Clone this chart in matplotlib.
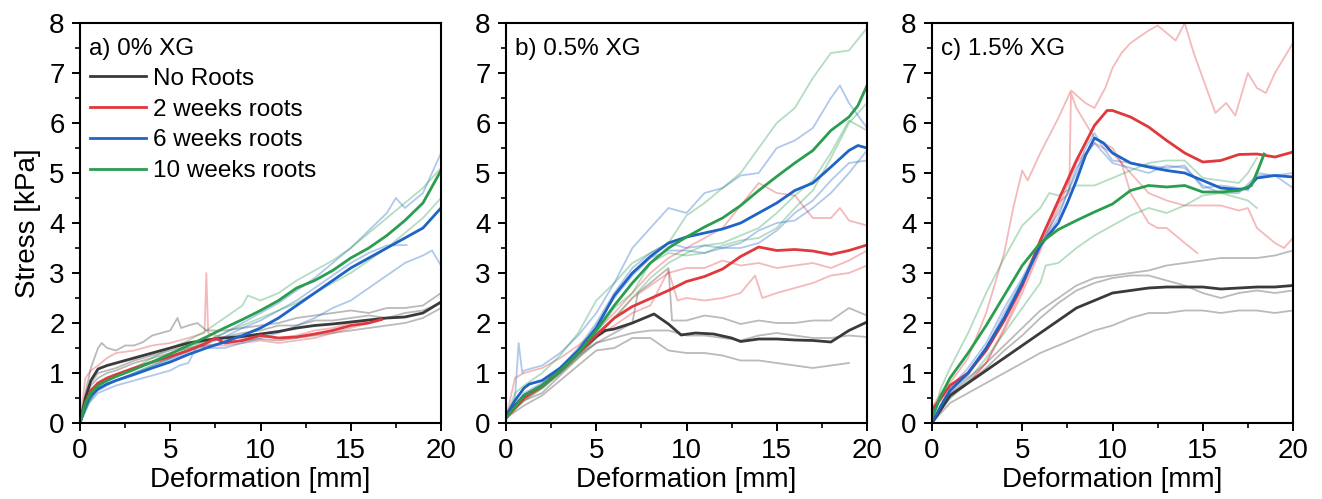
import matplotlib
matplotlib.use('Agg')
import matplotlib.pyplot as plt
from matplotlib.ticker import MultipleLocator

plt.rcParams['font.family'] = ['Liberation Sans', 'DejaVu Sans']

GROUPS = ['No Roots', '2 weeks roots', '6 weeks roots', '10 weeks roots']
COLORS = ['#3a3a3a', '#e0383c', '#1f63c6', '#2a9d4f']
PANEL_TITLES = ['a) 0% XG', 'b) 0.5% XG', 'c) 1.5% XG']

# ---- panel a: 0% XG  (deformation mm, stress kPa) ----
a_none_mean = [(0, 0), (0.3, 0.5), (0.6, 0.85), (1, 1.08), (1.5, 1.15), (2, 1.2), (3, 1.3), (4, 1.4),
               (5, 1.5), (6, 1.6), (7, 1.66), (8, 1.7), (9, 1.73), (10, 1.78), (11, 1.83), (12, 1.9),
               (13, 1.95), (14, 1.98), (15, 2.02), (16, 2.06), (17, 2.1), (18, 2.12), (19, 2.2), (20, 2.42)]
a_none_reps = [
    [(0, 0), (0.3, 0.6), (0.6, 1.1), (1, 1.5), (1.2, 1.6), (1.5, 1.5), (2, 1.45), (2.5, 1.55), (3, 1.55),
     (3.5, 1.62), (4, 1.75), (4.5, 1.8), (5, 1.85), (5.4, 2.1), (5.6, 1.9), (6, 1.95), (6.5, 2.0), (7, 1.85),
     (8, 1.85), (9, 1.9), (10, 1.95), (11, 2.0), (12, 2.1), (13, 2.15), (14, 2.2), (15, 2.25), (16, 2.2),
     (17, 2.3), (18, 2.3), (19, 2.35), (20, 2.6)],
    [(0, 0), (0.3, 0.5), (0.6, 0.8), (1, 1.0), (1.5, 1.05), (2, 1.1), (3, 1.25), (4, 1.35), (5, 1.45),
     (6, 1.55), (7, 1.65), (8, 1.72), (9, 1.8), (10, 1.85), (11, 1.95), (12, 1.95), (13, 2.05), (14, 2.05),
     (15, 2.1), (16, 2.15), (17, 2.1), (18, 2.2), (19, 2.25), (20, 2.4)],
    [(0, 0), (0.3, 0.45), (0.6, 0.75), (1, 0.9), (1.5, 1.0), (2, 1.05), (3, 1.2), (4, 1.3), (5, 1.4),
     (6, 1.5), (7, 1.55), (8, 1.6), (9, 1.65), (10, 1.68), (11, 1.65), (12, 1.7), (13, 1.75), (14, 1.8),
     (15, 1.85), (16, 1.9), (17, 1.95), (18, 2.0), (19, 2.1), (20, 2.3)],
]
a_2w_mean = [(0, 0), (0.3, 0.4), (0.6, 0.65), (1, 0.8), (1.5, 0.9), (2, 0.97), (3, 1.1), (4, 1.22),
             (5, 1.33), (6, 1.45), (7, 1.6), (7.5, 1.7), (8, 1.6), (9, 1.65), (10, 1.75), (11, 1.7),
             (12, 1.72), (13, 1.78), (14, 1.85), (15, 1.95), (16, 2.0), (16.7, 2.07)]
a_2w_reps = [
    [(0, 0), (0.3, 0.9), (0.6, 1.05), (1, 1.15), (1.5, 1.3), (2, 1.4), (3, 1.45), (4, 1.55), (5, 1.6),
     (6, 1.7), (6.9, 1.8), (7.0, 3.0), (7.1, 1.8), (8, 1.7), (9, 1.7), (10, 1.75), (11, 1.7), (12, 1.75),
     (13, 1.85), (14, 1.9), (15, 2.0), (16, 2.05)],
    [(0, 0), (0.5, 0.5), (1, 0.75), (2, 0.95), (3, 1.1), (4, 1.2), (5, 1.3), (6, 1.45), (7, 1.55),
     (8, 1.55), (9, 1.6), (10, 1.65), (11, 1.6), (12, 1.65), (13, 1.7), (14, 1.8), (15, 1.9), (16, 2.0)],
]
a_6w_mean = [(0, 0), (0.3, 0.35), (0.6, 0.55), (1, 0.68), (1.5, 0.78), (2, 0.85), (3, 0.97), (4, 1.1),
             (5, 1.22), (6, 1.37), (7, 1.5), (8, 1.62), (9, 1.75), (10, 1.9), (11, 2.1), (12, 2.35),
             (13, 2.6), (14, 2.85), (15, 3.1), (16, 3.3), (17, 3.5), (18, 3.7), (19, 3.9), (20, 4.3)]
a_6w_reps = [
    [(0, 0), (0.5, 0.4), (1, 0.6), (2, 0.75), (3, 0.85), (4, 0.95), (5, 1.05), (5.5, 1.15), (6, 1.2),
     (6.5, 1.55), (7, 1.5), (8, 1.5), (9, 1.6), (10, 1.7), (11, 1.8), (12, 1.95), (13, 2.1), (14, 2.3),
     (15, 2.45), (16, 2.7), (17, 2.95), (18, 3.2), (19, 3.35), (19.5, 3.45), (20, 3.15)],
    [(0, 0), (0.5, 0.45), (1, 0.65), (2, 0.85), (3, 1.0), (4, 1.15), (5, 1.3), (6, 1.45), (7, 1.6),
     (8, 1.8), (9, 2.0), (10, 2.2), (11, 2.4), (12, 2.65), (13, 2.9), (14, 3.2), (15, 3.5), (16, 3.85),
     (17, 4.2), (17.5, 4.5), (18, 4.3), (19, 4.6), (20, 5.4)],
    [(0, 0), (0.5, 0.45), (1, 0.7), (2, 0.85), (3, 0.98), (4, 1.12), (5, 1.27), (6, 1.42), (7, 1.58),
     (8, 1.72), (9, 1.9), (10, 2.05), (11, 2.25), (12, 2.45), (13, 2.7), (14, 2.95), (15, 3.2), (16, 3.4),
     (17, 3.55), (18.1, 3.56)],
]
a_10w_mean = [(0, 0), (0.3, 0.4), (0.6, 0.6), (1, 0.75), (1.5, 0.85), (2, 0.93), (3, 1.07), (4, 1.22),
              (5, 1.38), (6, 1.55), (7, 1.72), (8, 1.9), (9, 2.07), (10, 2.25), (11, 2.45), (12, 2.7),
              (13, 2.85), (14, 3.05), (15, 3.3), (16, 3.5), (17, 3.75), (18, 4.05), (19, 4.4), (20, 5.05)]
a_10w_reps = [
    [(0, 0), (0.5, 0.45), (1, 0.75), (2, 0.95), (3, 1.1), (4, 1.3), (5, 1.5), (6, 1.65), (7, 1.85),
     (8, 2.1), (9, 2.35), (9.3, 2.55), (10, 2.45), (11, 2.6), (12, 2.85), (13, 3.05), (14, 3.25),
     (15, 3.5), (16, 3.8), (17, 4.1), (18, 4.4), (19, 4.7), (20, 5.1)],
    [(0, 0), (0.5, 0.4), (1, 0.7), (2, 0.85), (3, 1.0), (4, 1.15), (5, 1.3), (6, 1.5), (7, 1.65),
     (8, 1.8), (9, 1.95), (10, 2.1), (11, 2.25), (12, 2.4), (13, 2.6), (14, 2.8), (15, 3.0), (16, 3.25),
     (17, 3.5), (18, 3.8), (19, 4.1), (20, 4.5)],
]

# ---- panel b: 0.5% XG ----
b_none_mean = [(0, 0.1), (0.5, 0.35), (1, 0.55), (2, 0.75), (3, 1.05), (4, 1.4), (5, 1.73), (5.5, 1.85),
               (6, 1.88), (7, 2.0), (8.2, 2.18), (9, 1.98), (9.7, 1.76), (10.5, 1.8), (11.5, 1.78),
               (12.5, 1.7), (13, 1.63), (14, 1.68), (15, 1.68), (16, 1.66), (17, 1.65), (18, 1.62),
               (19, 1.85), (20, 2.02)]
b_none_reps = [
    [(0, 0.1), (0.5, 0.3), (1, 0.45), (2, 0.6), (3, 0.95), (4, 1.3), (5, 1.6), (6, 1.8), (7, 2.0),
     (7.3, 2.6), (8, 2.8), (9, 3.1), (9.2, 2.05), (10, 2.05), (11, 2.15), (12, 2.1), (13, 1.98),
     (14, 2.05), (15, 2.0), (16, 2.0), (17, 2.05), (18, 2.05), (19, 2.3), (20, 2.15)],
    [(0, 0.1), (1, 0.5), (2, 0.7), (3, 1.0), (4, 1.35), (5, 1.6), (6, 1.7), (7, 1.8), (8, 1.85), (9, 1.85),
     (10, 1.75), (11, 1.75), (12, 1.7), (13, 1.65), (14, 1.75), (15, 1.8), (16, 1.75), (17, 1.7),
     (18, 1.7), (19, 1.75), (20, 1.72)],
    [(0, 0.1), (1, 0.35), (2, 0.55), (3, 0.85), (4, 1.15), (5, 1.45), (6, 1.5), (7, 1.7), (8, 1.7),
     (9, 1.45), (10, 1.4), (11, 1.4), (12, 1.35), (13, 1.25), (14, 1.25), (15, 1.2), (16, 1.15), (17, 1.1),
     (18, 1.15), (19, 1.2)],
]
b_2w_mean = [(0, 0.1), (0.5, 0.3), (1, 0.5), (2, 0.75), (3, 1.05), (4, 1.4), (5, 1.76), (6, 2.1), (7, 2.33),
             (8, 2.49), (9, 2.65), (10, 2.83), (11, 2.93), (12, 3.08), (13, 3.33), (14, 3.52), (15, 3.45),
             (16, 3.47), (17, 3.44), (18, 3.37), (19, 3.45), (20, 3.56)]
b_2w_reps = [
    [(0, 0.1), (0.5, 0.9), (1, 1.0), (2, 1.1), (3, 1.3), (4, 1.55), (5, 1.85), (6, 2.2), (7, 2.6), (8, 3.0),
     (9, 3.3), (10, 3.5), (11, 3.7), (12, 3.9), (13, 4.35), (14, 4.8), (15, 4.6), (16, 4.55), (17, 4.1),
     (18, 4.1), (18.5, 4.3), (19, 4.05), (20, 3.95)],
    [(0, 0.1), (1, 0.5), (2, 0.75), (3, 1.05), (4, 1.4), (5, 1.75), (6, 2.1), (7, 2.5), (8, 2.75), (9, 3.0),
     (10, 3.1), (11, 3.1), (12, 3.25), (13, 3.15), (14, 3.2), (15, 3.1), (16, 3.15), (17, 3.2), (18, 3.1),
     (19, 3.25), (20, 3.45)],
    [(0, 0.1), (1, 0.45), (2, 0.7), (3, 1.0), (4, 1.35), (5, 1.7), (6, 1.95), (7, 2.2), (8, 2.35),
     (9, 3.05), (9.5, 2.45), (10, 2.5), (11, 2.45), (12, 2.5), (13, 2.6), (13.8, 2.95), (14.2, 2.5),
     (15, 2.6), (16, 2.7), (17, 2.8), (18, 2.95), (19, 3.0), (20, 3.15)],
]
b_6w_mean = [(0, 0.15), (0.5, 0.45), (1, 0.7), (1.3, 0.78), (2, 0.85), (3, 1.1), (4, 1.45), (5, 1.9),
             (6, 2.55), (7, 3.0), (8, 3.33), (9, 3.6), (10, 3.72), (11, 3.8), (12, 3.88), (13, 4.0),
             (14, 4.2), (15, 4.4), (16, 4.65), (17, 4.8), (18, 5.12), (19, 5.45), (19.5, 5.55), (20, 5.5)]
b_6w_reps = [
    [(0, 0.1), (0.5, 0.5), (0.7, 1.6), (0.9, 1.0), (1, 1.05), (2, 1.15), (3, 1.4), (4, 1.75), (5, 2.2),
     (6, 2.8), (7, 3.5), (8, 3.9), (9, 4.3), (10, 4.2), (11, 4.6), (12, 4.7), (13, 4.95), (14, 5.0),
     (15, 5.5), (16, 5.65), (17, 5.9), (18, 6.5), (18.5, 6.75), (19, 6.4), (20, 5.9)],
    [(0, 0.1), (1, 0.6), (2, 0.8), (3, 1.1), (4, 1.5), (5, 2.0), (6, 2.6), (7, 3.1), (8, 3.4), (9, 3.6),
     (10, 3.5), (11, 3.55), (12, 3.5), (13, 3.6), (14, 3.85), (15, 4.0), (16, 4.05), (17, 4.3), (18, 4.6),
     (19, 5.0), (20, 5.45)],
    [(0, 0.1), (1, 0.55), (2, 0.75), (3, 1.05), (4, 1.45), (5, 1.95), (6, 2.5), (7, 2.95), (8, 3.3),
     (9, 3.45), (10, 3.45), (11, 3.4), (12, 3.5), (13, 3.5), (14, 3.6), (15, 3.85), (16, 4.2), (17, 4.45),
     (18, 4.85), (19, 5.2), (20, 5.25)],
]
b_10w_mean = [(0, 0.1), (1, 0.55), (2, 0.75), (3, 1.05), (4, 1.4), (5, 1.85), (6, 2.35), (7, 2.8),
              (8, 3.2), (9, 3.5), (10, 3.72), (11, 3.92), (12, 4.1), (13, 4.35), (14, 4.65), (15, 4.93),
              (16, 5.2), (17, 5.45), (18, 5.85), (19, 6.12), (19.5, 6.35), (20, 6.75)]
b_10w_reps = [
    [(0, 0.1), (0.5, 0.6), (1, 0.75), (2, 1.0), (3, 1.35), (4, 1.8), (5, 2.45), (6, 2.8), (7, 3.2),
     (8, 3.4), (9, 3.6), (10, 4.15), (11, 4.4), (12, 4.7), (13, 5.0), (14, 5.5), (15, 6.0), (16, 6.3),
     (17, 6.9), (18, 7.4), (19, 7.45), (20, 7.9)],
    [(0, 0.1), (1, 0.5), (2, 0.7), (3, 1.0), (4, 1.35), (5, 1.8), (6, 2.3), (7, 2.6), (8, 3.2), (9, 3.4),
     (10, 3.35), (11, 3.4), (12, 3.55), (13, 3.65), (14, 3.7), (15, 3.9), (16, 4.3), (17, 4.65),
     (18, 5.3), (19, 6.0), (20, 6.4)],
    [(0, 0.1), (1, 0.45), (2, 0.7), (3, 1.0), (4, 1.3), (5, 1.7), (6, 2.1), (7, 2.5), (8, 2.9), (9, 3.2),
     (10, 3.4), (11, 3.55), (12, 3.6), (13, 3.75), (14, 3.9), (15, 4.2), (16, 4.55), (17, 4.85),
     (18, 5.4), (19, 6.05), (20, 5.85)],
]

# ---- panel c: 1.5% XG ----
c_none_mean = [(0, 0), (1, 0.55), (2, 0.8), (3, 1.05), (4, 1.3), (5, 1.55), (6, 1.8), (7, 2.05), (8, 2.3),
               (9, 2.45), (10, 2.6), (11, 2.65), (12, 2.7), (13, 2.72), (14, 2.72), (15, 2.72), (16, 2.68),
               (17, 2.7), (18, 2.72), (19, 2.72), (20, 2.75)]
c_none_reps = [
    [(0, 0), (1, 0.55), (2, 0.9), (3, 1.2), (4, 1.55), (5, 1.9), (6, 2.25), (7, 2.5), (8, 2.75), (9, 2.9),
     (10, 2.95), (11, 3.0), (12, 3.05), (13, 3.15), (14, 3.2), (15, 3.25), (16, 3.3), (17, 3.3), (18, 3.3),
     (19, 3.35), (20, 3.45)],
    [(0, 0), (1, 0.5), (2, 0.8), (3, 1.1), (4, 1.45), (5, 1.75), (6, 2.1), (7, 2.4), (8, 2.65), (9, 2.8),
     (10, 2.9), (11, 2.95), (12, 2.95), (13, 2.85), (14, 2.75), (15, 2.6), (16, 2.5), (17, 2.6), (18, 2.65),
     (19, 2.6), (20, 2.65)],
    [(0, 0), (1, 0.4), (2, 0.6), (3, 0.8), (4, 1.0), (5, 1.2), (6, 1.4), (7, 1.55), (8, 1.7), (9, 1.85),
     (10, 1.95), (11, 2.1), (12, 2.2), (13, 2.2), (14, 2.25), (15, 2.25), (16, 2.2), (17, 2.25), (18, 2.25),
     (19, 2.2), (20, 2.25)],
]
c_2w_mean = [(0, 0.25), (0.5, 0.5), (1, 0.75), (2, 1.0), (3, 1.45), (4, 2.05), (5, 2.75), (6, 3.65),
             (7, 4.45), (8, 5.25), (9, 5.95), (9.7, 6.25), (10, 6.25), (11, 6.12), (12, 5.92), (13, 5.65),
             (14, 5.4), (15, 5.22), (16, 5.25), (17, 5.37), (18, 5.38), (19, 5.32), (20, 5.42)]
c_2w_reps = [
    [(0, 0.3), (0.5, 0.6), (1, 0.8), (2, 1.3), (3, 2.2), (4, 3.4), (4.5, 4.3), (5, 5.05), (5.3, 4.85),
     (6, 5.4), (7, 6.1), (7.7, 6.65), (8.5, 6.4), (9, 6.3), (9.6, 6.7), (10, 7.1), (10.5, 7.4), (11, 7.6),
     (12, 7.85), (12.5, 7.95), (13, 7.8), (13.5, 7.65), (14, 8.0), (14.5, 7.4), (15, 6.9), (15.7, 6.2),
     (16.3, 6.4), (16.8, 6.15), (17.5, 7.0), (18, 6.7), (18.5, 6.6), (19, 7.0), (20, 7.6)],
    [(0, 0.3), (0.5, 0.5), (1, 0.6), (2, 0.8), (3, 1.2), (4, 1.9), (5, 2.7), (6, 3.5), (7, 4.4), (7.6, 4.6),
     (7.7, 6.6), (8, 6.3), (8.5, 6.0), (9, 5.7), (10, 5.5), (10.5, 5.2), (11, 4.6), (11.5, 4.3), (12, 4.0),
     (12.5, 3.9), (13, 3.9), (13.5, 3.75), (14, 3.6), (14.7, 3.4)],
    [(0, 0.3), (0.5, 0.45), (1, 0.55), (2, 0.8), (3, 1.2), (4, 1.85), (5, 2.6), (6, 3.45), (7, 4.3), (8, 5.2),
     (9, 5.6), (10, 5.4), (11, 5.0), (12, 4.6), (13, 4.45), (14, 4.35), (15, 4.35), (16, 4.35), (17, 4.25),
     (17.5, 4.3), (18, 3.9), (19, 3.6), (19.5, 3.5), (20, 3.7)],
]
c_6w_mean = [(0, 0), (0.5, 0.35), (1, 0.65), (2, 1.0), (3, 1.5), (4, 2.1), (5, 2.8), (6, 3.55), (7, 4.0),
             (7.5, 4.4), (8, 4.85), (8.5, 5.35), (9, 5.7), (9.5, 5.6), (10, 5.4), (11, 5.2), (12, 5.12),
             (13, 5.05), (14, 5.0), (15, 4.85), (16, 4.7), (17, 4.67), (17.5, 4.7), (18, 4.9), (19, 4.95),
             (20, 4.92)]
c_6w_reps = [
    [(0, 0), (1, 0.7), (2, 1.1), (3, 1.6), (4, 2.3), (5, 2.9), (6, 3.6), (7, 4.2), (8, 5.0), (8.5, 5.5),
     (9, 5.8), (9.5, 5.5), (10, 5.25), (11, 5.2), (12, 5.15), (13, 5.1), (14, 5.15), (15, 4.7), (16, 4.75),
     (17, 4.7), (17.5, 4.65), (18, 5.0), (19, 4.95), (20, 4.7)],
    [(0, 0), (1, 0.6), (2, 0.95), (3, 1.5), (4, 2.2), (5, 2.85), (6, 3.55), (7, 4.1), (8, 5.1), (9, 5.6),
     (10, 5.2), (11, 5.1), (12, 5.0), (13, 5.15), (14, 5.1), (15, 4.75), (16, 4.6), (17, 4.6), (18, 4.95),
     (19, 4.95), (20, 5.0)],
]
c_10w_mean = [(0, 0.1), (0.5, 0.55), (1, 0.9), (2, 1.4), (3, 1.95), (4, 2.55), (5, 3.15), (6, 3.6),
              (7, 3.87), (8, 4.05), (9, 4.22), (10, 4.38), (11, 4.65), (12, 4.75), (13, 4.72), (14, 4.75),
              (15, 4.62), (16, 4.62), (17, 4.65), (17.7, 4.75), (18.1, 5.1), (18.4, 5.38)]
c_10w_reps = [
    [(0, 0.1), (0.5, 0.7), (1, 1.1), (2, 1.8), (3, 2.6), (4, 3.3), (5, 3.95), (6, 4.3), (6.5, 4.6),
     (7, 4.55), (8, 4.75), (9, 4.75), (10, 4.9), (11, 5.05), (12, 5.2), (13, 5.25), (14, 5.25), (15, 4.9),
     (16, 4.85), (17, 4.8), (17.5, 5.0), (18, 5.3)],
    [(0, 0.1), (1, 0.5), (2, 0.85), (3, 1.3), (4, 1.8), (5, 2.3), (6, 2.8), (6.3, 3.15), (7, 3.2), (8, 3.5),
     (9, 3.75), (10, 3.95), (11, 4.15), (12, 4.3), (13, 4.2), (14, 4.35), (15, 4.55), (16, 4.6), (17, 4.5),
     (17.5, 4.45), (18, 4.3)],
]

panels = [
    [(a_none_mean, a_none_reps), (a_2w_mean, a_2w_reps), (a_6w_mean, a_6w_reps), (a_10w_mean, a_10w_reps)],
    [(b_none_mean, b_none_reps), (b_2w_mean, b_2w_reps), (b_6w_mean, b_6w_reps), (b_10w_mean, b_10w_reps)],
    [(c_none_mean, c_none_reps), (c_2w_mean, c_2w_reps), (c_6w_mean, c_6w_reps), (c_10w_mean, c_10w_reps)],
]

fig = plt.figure(figsize=(13.22, 4.99), dpi=100)
lefts = [80, 506, 932]
axes = []
for i, left in enumerate(lefts):
    ax = fig.add_axes([left / 1322, 76 / 499, 361 / 1322, 400 / 499])
    axes.append(ax)
    groups = panels[i]
    # light replicate curves first
    for (mean, reps), col in zip(groups, COLORS):
        for rep in reps:
            xs = [p[0] for p in rep]
            ys = [p[1] for p in rep]
            ax.plot(xs, ys, color=col, lw=1.3, alpha=0.35)
    # averaged curves on top
    for (mean, reps), col, name in zip(groups, COLORS, GROUPS):
        xs = [p[0] for p in mean]
        ys = [p[1] for p in mean]
        ax.plot(xs, ys, color=col, lw=2.0, label=name)

    ax.set_xlim(0, 20)
    ax.set_ylim(0, 8)
    ax.xaxis.set_major_locator(MultipleLocator(5))
    ax.xaxis.set_minor_locator(MultipleLocator(2.5))
    ax.yaxis.set_major_locator(MultipleLocator(1))
    ax.yaxis.set_minor_locator(MultipleLocator(0.5))
    ax.tick_params(which='major', direction='out', length=6, width=1.4, labelsize=20, pad=5)
    ax.tick_params(which='minor', direction='out', length=3.5, width=1.2)
    for sp in ax.spines.values():
        sp.set_linewidth(1.5)
    ax.set_xlabel('Deformation [mm]', fontsize=20, labelpad=2)
    ax.text(0.025, 0.962, PANEL_TITLES[i], transform=ax.transAxes, fontsize=17.5,
            ha='left', va='top')

axes[0].set_ylabel('Stress [kPa]', fontsize=20, labelpad=6)
axes[0].legend(loc='upper left', bbox_to_anchor=(0.0, 0.912), frameon=False, fontsize=17.5,
               handlelength=2.3, handletextpad=0.3, labelspacing=0.36, borderaxespad=0.3,
               borderpad=0.1)

fig.savefig('out.png', dpi=100)
